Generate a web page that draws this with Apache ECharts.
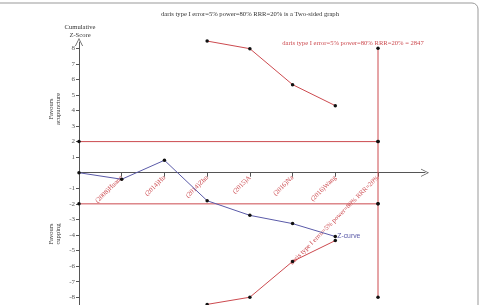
<!DOCTYPE html>
<html><head><meta charset="utf-8">
<script src="https://cdn.jsdelivr.net/npm/echarts@6/dist/echarts.min.js"></script>
<style>html,body{margin:0;padding:0;background:#fff}#c{width:479px;height:305px}</style>
</head><body><div id="c"></div>
<script>
const categories = ['(2008)Huang','(2014)Hu','(2014)Zhu','(2015)A','(2016)Na','(2016)Wang','daris type I error=5% power=80% RRR=20%'];
const zCurve = [0, -0.42, 0.8, -1.8, -2.74, -3.27, -4.1];           // at positions 0..6
const boundX = [3, 4, 5, 6];
const upperBound = [8.46, 7.97, 5.66, 4.31];
const lowerBound = [-8.46, -8.0, -5.7, -4.36];
const risX = 7;               // required information size position
const risLimits = [8, 2, -2, -8];
const conventional = [2, -2];
const yTicks = [-8,-7,-6,-5,-4,-3,-2,-1,1,2,3,4,5,6,7,8];
const xTicks = [1,2,3,4,5,6,7];
const titleText = 'daris type I error=5% power=80% RRR=20% is a Two-sided graph';
const risText = 'daris type I error=5% power=80% RRR=20% = 2847';

const RED = '#cc4a4f', BLUE = '#5a5aa8', AX = '#555';
const serif = 'Liberation Serif';
const chevron = 'path://M0,10 L5,0 L10,10 L9,10 L5,1.8 L1,10 Z';
const dot = {symbol:'circle', symbolSize:3.5, itemStyle:{color:'#111'}};

const W = 479, H = 305, G_TOP = 42, G_BOTTOM = 0, Y_MIN = -8.5, Y_MAX = 8.4;
// move the x axis (line, ticks and labels) up to y = 0
const gridH = H - G_TOP - G_BOTTOM;
const xOffset = -gridH * (0 - Y_MIN) / (Y_MAX - Y_MIN);

const chart = echarts.init(document.getElementById('c'));
const series = [];
conventional.forEach(v => series.push(Object.assign({
  type:'line', data:[[0,v],[risX,v]], lineStyle:{color:RED,width:1}, silent:true, z:2
}, dot)));
series.push(Object.assign({type:'line', data:risLimits.map(v=>[risX,v]), lineStyle:{color:RED,width:1}, z:2}, dot));
series.push(Object.assign({type:'line', clip:false, data:boundX.map((x,i)=>[x,upperBound[i]]), lineStyle:{color:RED,width:1}, z:3}, dot));
series.push(Object.assign({type:'line', clip:false, data:boundX.map((x,i)=>[x,lowerBound[i]]), lineStyle:{color:RED,width:1}, z:3}, dot));
series.push(Object.assign({type:'line', data:zCurve.map((v,i)=>[i,v]), lineStyle:{color:BLUE,width:1}, z:4,
  endLabel:{show:true, formatter:'Z-curve', color:BLUE, fontSize:6.8, fontFamily:'Liberation Sans', distance:2}}, dot));

const F = '6.6px "Liberation Serif"';
chart.setOption({
  animation:false,
  grid:{left:79, right:54, top:G_TOP, bottom:G_BOTTOM, containLabel:false, outerBoundsMode:'none'},
  xAxis:{type:'value', min:0, max:8.1, offset:xOffset, z:1,
    axisLine:{onZero:false, lineStyle:{color:AX,width:1}, symbol:['none',chevron], symbolSize:[8,9]},
    axisTick:{show:true, customValues:xTicks, length:4, lineStyle:{color:AX}},
    axisLabel:{customValues:xTicks, rotate:45, color:RED, fontSize:6.7, fontFamily:serif, margin:4,
      formatter:v=>categories[Math.round(v)-1] || ''},
    splitLine:{show:false}},
  yAxis:{type:'value', min:Y_MIN, max:Y_MAX,
    axisLine:{lineStyle:{color:AX,width:1}, symbol:['none',chevron], symbolSize:[8,9]},
    axisTick:{show:true, customValues:yTicks, length:3, lineStyle:{color:AX}},
    axisLabel:{customValues:yTicks, color:AX, fontSize:7, fontFamily:serif, margin:4},
    splitLine:{show:false}},
  series:series,
  graphic:[
    {type:'rect', shape:{x:-10, y:3, width:488, height:330, r:6}, style:{fill:'none', stroke:'#999', lineWidth:1}, silent:true},
    {type:'text', x:250, y:14, style:{text:titleText, fill:'#333', font:F, align:'center', verticalAlign:'middle'}},
    {type:'text', x:353, y:43, style:{text:risText, fill:RED, font:F, align:'center', verticalAlign:'middle'}},
    {type:'text', x:80, y:31, style:{text:'Cumulative\nZ-Score', fill:'#333', font:F, align:'center', verticalAlign:'middle', lineHeight:8}},
    {type:'text', x:55, y:109, rotation:Math.PI/2, style:{text:'Favours\nacupuncture', fill:'#333', font:F, align:'center', verticalAlign:'middle', lineHeight:7.5}},
    {type:'text', x:55, y:234, rotation:Math.PI/2, style:{text:'Favours\ncupping', fill:'#333', font:F, align:'center', verticalAlign:'middle', lineHeight:7.5}}
  ]
});
</script></body></html>
